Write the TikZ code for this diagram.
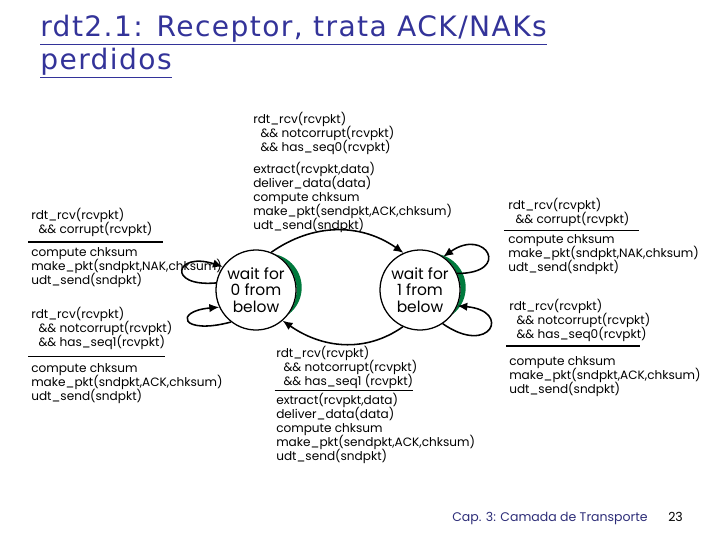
\documentclass[tikz,border=0pt]{standalone}
\usepackage{fontspec}
\setmainfont{Poppins}
\newfontfamily\titlefont[LetterSpace=5]{DejaVu Sans}
\usetikzlibrary{positioning,arrows.meta}
\definecolor{titleblue}{RGB}{51,51,153}
\definecolor{footblue}{RGB}{45,45,120}
\definecolor{shadegreen}{RGB}{0,122,61}
\setlength{\lineskiplimit}{-10pt}

\tikzset{
  fsmstate/.style={circle, draw, line width=0.9pt, minimum size=2cm, inner sep=0pt,
    align=center, font=\fontsize{11}{11.8}\selectfont},
  fsmlabel/.style={align=left, inner sep=0pt, font=\fontsize{8.6}{10}\selectfont},
  sepline/.style={line width=1.3pt},
  trans/.style={line width=1.1pt, -{Latex[length=7pt,width=6pt]}},
}

\begin{document}
\begin{tikzpicture}[x=0.025cm,y=0.025cm]
        \useasboundingbox (0,0) rectangle (720,540);
        % Title
        \node[anchor=north west, align=left, inner sep=0pt, text=titleblue,
          font=\titlefont\fontsize{20}{23.5}\selectfont] (title) at (40,525)
          {\underline{rdt2.1: Receptor, trata ACK/NAKs}\\\underline{perdidos}};
        % Green shading behind the states
        \begin{scope}
          \clip (267.7,252.5) circle (34);
          \fill[shadegreen, even odd rule] (256,250) circle (40.6) (256,250) circle (60);
        \end{scope}
        \begin{scope}
          \clip (431.7,252.5) circle (34);
          \fill[shadegreen, even odd rule] (420,250) circle (40.6) (420,250) circle (60);
        \end{scope}
        % States
        \node[fsmstate] (s0) at (256,250) {wait for\\0 from\\below};
        \node[fsmstate] (s1) at (420,250) {wait for\\1 from\\below};
        % Transitions between the states
        \draw[trans] (s0.68) to[out=35,in=145] (s1.114);
        \draw[trans] (s1.-115) to[out=-145,in=-35] (s0.-49);
        % Self loops
        \draw[trans] (s0.170) .. controls +(185:50) and +(162:50) .. (s0.145);
        \draw[trans] (s0.232) .. controls +(195:52) and +(185:46) .. (s0.205);
        \draw[trans] (s1.24) .. controls +(0:55) and +(35:52) .. (s1.55);
        \draw[trans] (s1.-56) .. controls +(-35:58) and +(-5:55) .. (s1.-23);
        % Top label (0 -> 1)
        \node[fsmlabel, anchor=north west] (top-c) at (253,428)
          {rdt\_rcv(rcvpkt)\\\hspace{0.6em}\&\& notcorrupt(rcvpkt)\\\hspace{0.6em}\&\& has\_seq0(rcvpkt)};
        \node[fsmlabel, below right=4.5pt and 0pt of top-c.south west] (top-a)
          {extract(rcvpkt,data)\\deliver\_data(data)\\compute chksum\\make\_pkt(sendpkt,ACK,chksum)\\udt\_send(sndpkt)};
        % Left upper label
        \node[fsmlabel, anchor=north west] (lu-c) at (31,332)
          {rdt\_rcv(rcvpkt)\\\hspace{0.6em}\&\& corrupt(rcvpkt)};
        \node[fsmlabel, below right=7pt and 0pt of lu-c.south west] (lu-a)
          {compute chksum\\make\_pkt(sndpkt,NAK,chksum)\\udt\_send(sndpkt)};
        \draw[sepline] ([xshift=-2pt,yshift=-3.5pt]lu-c.south west) -- ++(135,0);
        % Left lower label
        \node[fsmlabel, anchor=north west] (ll-c) at (31,233)
          {rdt\_rcv(rcvpkt)\\\hspace{0.6em}\&\& notcorrupt(rcvpkt)\\\hspace{0.6em}\&\& has\_seq1(rcvpkt)};
        \node[fsmlabel, below right=9pt and 0pt of ll-c.south west] (ll-a)
          {compute chksum\\make\_pkt(sndpkt,ACK,chksum)\\udt\_send(sndpkt)};
        \draw[sepline] ([xshift=-2pt,yshift=-4.5pt]ll-c.south west) -- ++(137,0);
        % Bottom label (1 -> 0)
        \node[fsmlabel, anchor=north west] (bot-c) at (276,194)
          {rdt\_rcv(rcvpkt)\\\hspace{0.6em}\&\& notcorrupt(rcvpkt)\\\hspace{0.6em}\&\& has\_seq1 (rcvpkt)};
        \node[fsmlabel, below right=2.5pt and 0pt of bot-c.south west] (bot-a)
          {extract(rcvpkt,data)\\deliver\_data(data)\\compute chksum\\make\_pkt(sendpkt,ACK,chksum)\\udt\_send(sndpkt)};
        \draw[sepline] ([xshift=-1pt,yshift=-1pt]bot-c.south west) -- ++(138,0);
        % Right upper label
        \node[fsmlabel, anchor=north west] (ru-c) at (508,342)
          {rdt\_rcv(rcvpkt)\\\hspace{0.6em}\&\& corrupt(rcvpkt)};
        \node[fsmlabel, below right=5.2pt and 0pt of ru-c.south west] (ru-a)
          {compute chksum\\make\_pkt(sndpkt,NAK,chksum)\\udt\_send(sndpkt)};
        \draw[sepline] ([xshift=-3pt,yshift=-2.5pt]ru-c.south west) -- ++(135,0);
        % Right lower label
        \node[fsmlabel, anchor=north west] (rl-c) at (509,241)
          {rdt\_rcv(rcvpkt)\\\hspace{0.6em}\&\& notcorrupt(rcvpkt)\\\hspace{0.6em}\&\& has\_seq0(rcvpkt)};
        \node[fsmlabel, below right=10pt and 0pt of rl-c.south west] (rl-a)
          {compute chksum\\make\_pkt(sndpkt,ACK,chksum)\\udt\_send(sndpkt)};
        \draw[sepline] ([xshift=-2pt,yshift=-2.5pt]rl-c.south west) -- ++(134,0);
        % Footer
        \node[anchor=base west, inner sep=0pt, text=footblue, font=\fontsize{8.9}{11}\selectfont] (foot) at (452,19)
          {Cap. 3: Camada de Transporte};
        \node[anchor=base west, inner sep=0pt, font=\fontsize{8.9}{11}\selectfont] (page) at (668,19) {23};
\end{tikzpicture}
\end{document}
